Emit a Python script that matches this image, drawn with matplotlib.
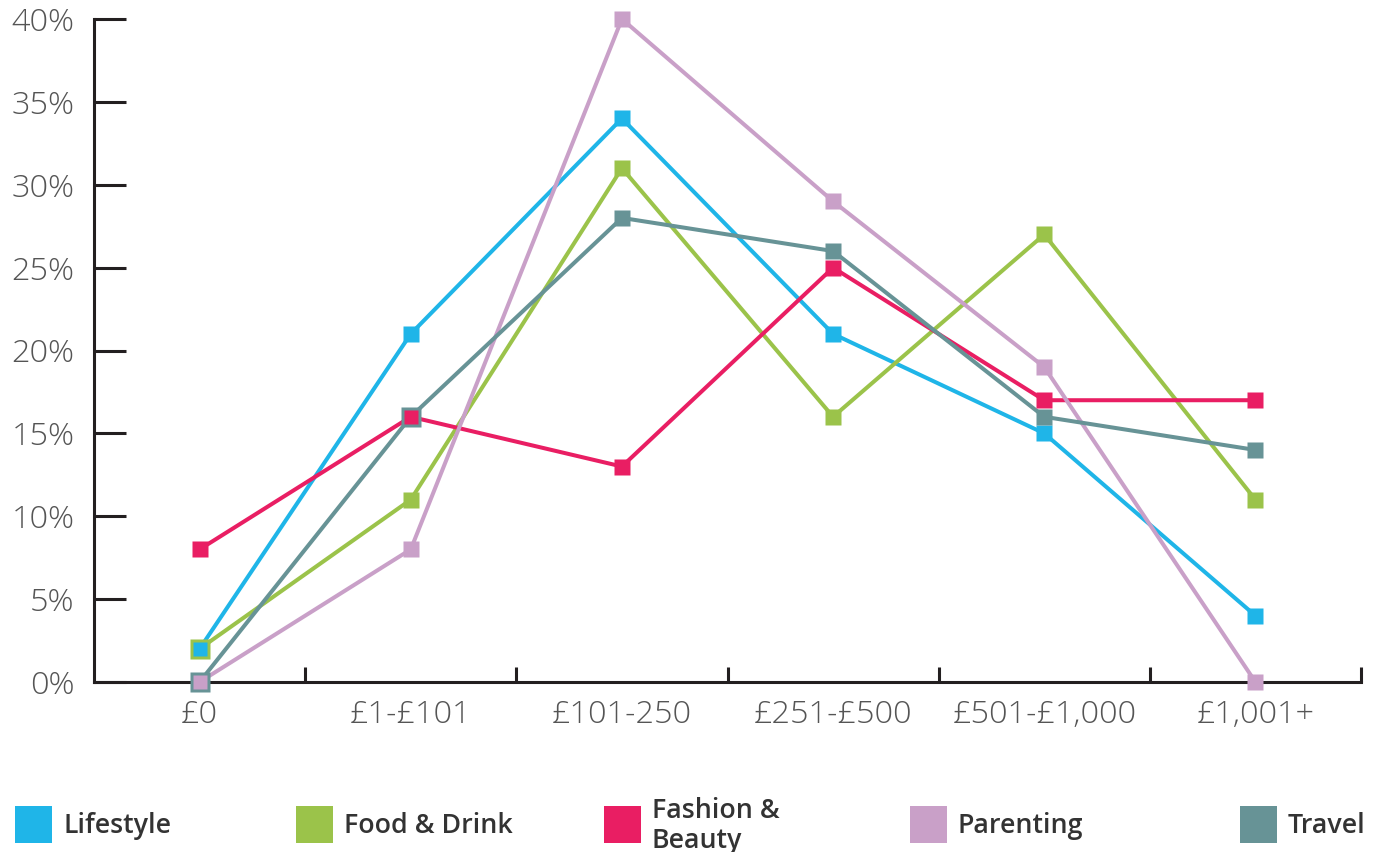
import matplotlib
matplotlib.use("Agg")
import matplotlib.pyplot as plt
from matplotlib.patches import Rectangle

# Spend bands and share of respondents (%) per category
categories = ["£0", "£1-£101", "£101-250", "£251-£500", "£501-£1,000", "£1,001+"]
series_names = ["Lifestyle", "Food & Drink", "Fashion &\nBeauty", "Parenting", "Travel"]
lifestyle = [2, 21, 34, 21, 15, 4]
food_drink = [2, 11, 31, 16, 27, 11]
fashion_beauty = [8, 16, 13, 25, 17, 17]
parenting = [0, 8, 40, 29, 19, 0]
travel = [0, 16, 28, 26, 16, 14]
y_ticks = [0, 5, 10, 15, 20, 25, 30, 35, 40]
y_tick_labels = [f"{v}%" for v in y_ticks]

colors = ["#1fb5e8", "#9bc34a", "#e91e63", "#c9a0c8", "#679396"]
all_series = [lifestyle, food_drink, fashion_beauty, parenting, travel]

axis_color = "#231f20"
label_color = "#555555"
legend_text_color = "#333333"

fig = plt.figure(figsize=(13.8, 8.52), dpi=100)
ax = fig.add_axes([94 / 1380, 1 - 682 / 852, (1361 - 94) / 1380, (682 - 19) / 852])

x = [i + 0.5 for i in range(len(categories))]

# lines first, in legend order
for vals, c in zip(all_series, colors):
    ax.plot(x, vals, color=c, lw=2.9, solid_capstyle="butt", zorder=3, clip_on=False)

# markers; where two series share a point the later one shows as a ring
normal_ms = 12.2
for si, (vals, c) in enumerate(zip(all_series, colors)):
    for idx, (xi, v) in enumerate(zip(x, vals)):
        shared_before = any(all_series[j][idx] == v for j in range(si))
        shared_after = any(all_series[j][idx] == v for j in range(si + 1, len(all_series)))
        if shared_before:
            ms, z = 13.8, 4
        elif shared_after:
            ms, z = 9.5, 5
        else:
            ms, z = normal_ms, 4
        ax.plot([xi], [v], marker="s", ms=ms, color=c, mec="none", ls="none",
                zorder=z, clip_on=False)

ax.set_xlim(0, len(categories))
ax.set_ylim(0, 40)

for s in ["top", "right"]:
    ax.spines[s].set_visible(False)
for s in ["left", "bottom"]:
    ax.spines[s].set_color(axis_color)
    ax.spines[s].set_linewidth(2.2)

# category boundaries as major ticks, labels on minor ticks at centres
ax.set_xticks(range(1, len(categories) + 1))
ax.set_xticklabels([])
ax.set_xticks(x, minor=True)
ax.set_xticklabels(categories, minor=True)
ax.tick_params(axis="x", which="major", direction="in", length=11, width=2.2,
               color=axis_color)
ax.tick_params(axis="x", which="minor", length=0, pad=12, labelsize=23.3,
               labelcolor=label_color)

ax.set_yticks(y_ticks)
ax.set_yticklabels(y_tick_labels)
ax.tick_params(axis="y", which="major", direction="in", length=23, width=2.2,
               color=axis_color, pad=14, labelsize=23.3, labelcolor=label_color)

for lab in ax.get_xticklabels(minor=True) + ax.get_yticklabels():
    lab.set_fontfamily("Open Sans")
    lab.set_fontweight("light")

# legend row below the axes
legend_x = [15, 296, 604, 910, 1240]
sq = 37
sq_top = 806
for name, c, lx in zip(series_names, colors, legend_x):
    fig.patches.append(Rectangle((lx / 1380, 1 - (sq_top + sq) / 852), sq / 1380, sq / 852,
                                 transform=fig.transFigure, facecolor=c, edgecolor="none"))
    fig.text((lx + sq + 11) / 1380, 1 - (sq_top + sq / 2 + 1.5) / 852, name,
             ha="left", va="center", fontsize=19.3, fontfamily="Open Sans",
             fontweight="semibold", color=legend_text_color, linespacing=1.05)

fig.savefig("out.png", dpi=100)
